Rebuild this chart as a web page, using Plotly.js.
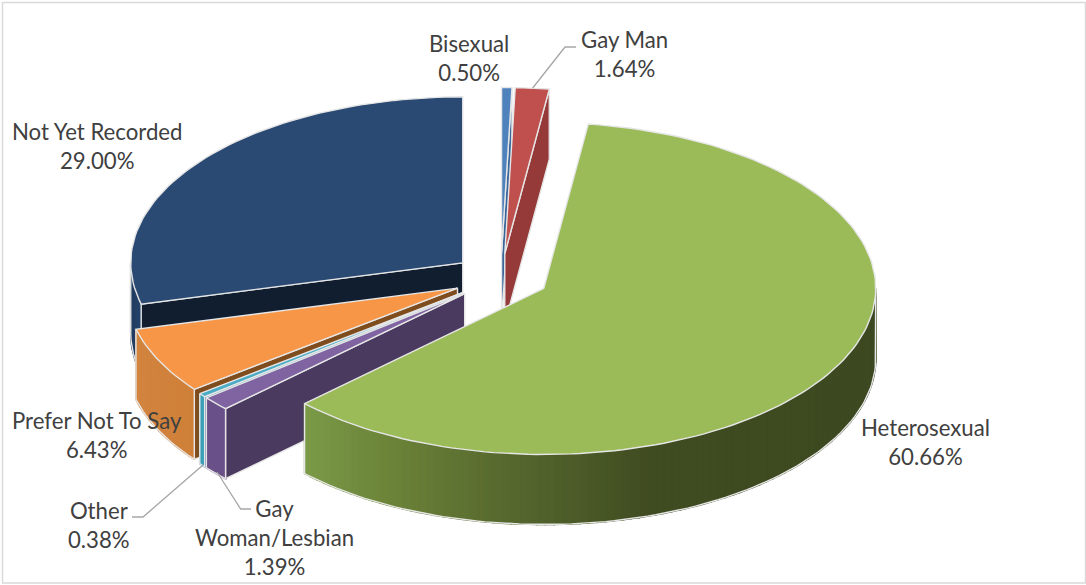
<!DOCTYPE html>
<html>
<head>
<meta charset="utf-8">
<script src="https://cdn.plot.ly/plotly-3.0.1.min.js"></script>
<style>html,body{margin:0;padding:0;background:#fff}</style>
</head>
<body>
<div id="chart" style="width:1086px;height:585px"></div>
<script>
// Sexual orientation breakdown, percent of records, clockwise from twelve o'clock
const categories = ["Bisexual", "Gay Man", "Heterosexual", "Gay Woman/Lesbian", "Other", "Prefer Not To Say", "Not Yet Recorded"];
const values = [0.50, 1.64, 60.66, 1.39, 0.38, 6.43, 29.00];
const labelLines = [["Bisexual"], ["Gay Man"], ["Heterosexual"], ["Gay", "Woman/Lesbian"], ["Other"], ["Prefer Not To Say"], ["Not Yet Recorded"]];

// Colours per slice: top surface, cut face, outer wall (start and end of the arc)
const topColors = ["#4f81bd", "#c0504d", "#9bbb59", "#8064a2", "#4bacc6", "#f79646", "#2a4a73"];
const faceColors = ["#3a659a", "#953a38", "#3f4a20", "#4b3a60", "#3c9db8", "#7f4c1e", "#101e30"];
const wallStops = [
  [[0, "#3a659a"], [1, "#3a659a"]],
  [[0, "#953a38"], [1, "#953a38"]],
  [[0, "#3c4820"], [0.52, "#3f4b20"], [0.72, "#586a2f"], [0.87, "#6c8439"], [1, "#7b9b48"]],
  [[0, "#6a5088"], [1, "#6a5088"]],
  [[0, "#3aa0b8"], [1, "#3aa0b8"]],
  [[0, "#cf7f38"], [1, "#d28540"]],
  [[0, "#24426a"], [1, "#1f3a5c"]]
];

// Projection of the tilted pie onto the plot area
const originX = 500.8, originY = 277.6, radiusX = 332, radiusY = 166, thickness = 70, explode = 0.145;
const edgeColor = "#e6e6e6", edgeWidth = 1.4;

const rad = d => d * Math.PI / 180;
const hex = c => [1, 3, 5].map(i => parseInt(c.substr(i, 2), 16));
function mix(stops, t) {
  for (let i = 1; i < stops.length; i++) {
    if (t <= stops[i][0]) {
      const f = (t - stops[i - 1][0]) / (stops[i][0] - stops[i - 1][0]);
      const a = hex(stops[i - 1][1]), b = hex(stops[i][1]);
      return "rgb(" + a.map((v, k) => Math.round(v + (b[k] - v) * f)).join(",") + ")";
    }
  }
  return stops[stops.length - 1][1];
}

const traces = [];
function poly(xs, ys, fill, line, width) {
  traces.push({
    type: "scatter", mode: "lines", x: xs, y: ys, fill: "toself", fillcolor: fill,
    line: {color: line, width: width}, hoverinfo: "skip", showlegend: false
  });
}

const total = values.reduce((a, b) => a + b, 0);
let acc = 0;
const slices = values.map((v, i) => {
  const a0 = acc / total * 360;
  acc += v;
  const a1 = acc / total * 360;
  const mid = rad((a0 + a1) / 2);
  return {
    i, a0, a1,
    cx: originX + explode * radiusX * Math.sin(mid),
    cy: originY - explode * radiusY * Math.cos(mid)
  };
});
// Back-to-front painting order follows the slices' depth on screen
const paintOrder = [0, 1, 6, 5, 4, 3, 2];

paintOrder.forEach(k => {
  const s = slices[k];
  const px = a => s.cx + radiusX * Math.sin(rad(a));
  const py = a => s.cy - radiusY * Math.cos(rad(a));
  const face = a => poly(
    [s.cx, px(a), px(a), s.cx, s.cx],
    [s.cy, py(a), py(a) + thickness, s.cy + thickness, s.cy],
    faceColors[k], edgeColor, edgeWidth
  );
  // Cut faces, only those turned towards the viewer
  if (Math.sin(rad(s.a0)) < 0) face(s.a0);
  if (Math.sin(rad(s.a1)) > 0) face(s.a1);

  // Outer wall, as narrow overlapping strips so the shading can change along the arc
  const w0 = Math.max(s.a0, 90), w1 = Math.min(s.a1, 270);
  if (w1 > w0) {
    const n = Math.max(2, Math.ceil((w1 - w0) / 1.5));
    for (let j = 0; j < n; j++) {
      const p = w0 + (w1 - w0) * j / n, q = w0 + (w1 - w0) * (j + 1) / n;
      const col = mix(wallStops[k], (j + 0.5) / n);
      poly([px(p), px(q), px(q), px(p), px(p)],
           [py(p), py(q), py(q) + thickness, py(p) + thickness, py(p)], col, col, 1.6);
    }
    const ax = [], ay = [];
    for (let j = 0; j <= n; j++) { const a = w0 + (w1 - w0) * j / n; ax.push(px(a)); ay.push(py(a) + thickness); }
    ax.unshift(px(w0)); ay.unshift(py(w0));
    ax.push(px(w1)); ay.push(py(w1));
    traces.push({type: "scatter", mode: "lines", x: ax, y: ay, line: {color: edgeColor, width: edgeWidth}, hoverinfo: "skip", showlegend: false});
  }

  // Top surface
  const tx = [s.cx], ty = [s.cy];
  const m = Math.max(3, Math.ceil((s.a1 - s.a0) / 1.5));
  for (let j = 0; j <= m; j++) { const a = s.a0 + (s.a1 - s.a0) * j / m; tx.push(px(a)); ty.push(py(a)); }
  tx.push(s.cx); ty.push(s.cy);
  poly(tx, ty, topColors[k], edgeColor, edgeWidth);
});

// Label centres and leader lines sit in plot-area pixels
const labelX = [469, 624, 925, 274, 99, 97, 97];
const labelY = [58, 54, 442, 537, 525, 435, 146];
const annotations = categories.map((c, i) => ({
  xref: "x", yref: "y", x: labelX[i], y: labelY[i], showarrow: false, align: "center",
  xanchor: "center", yanchor: "middle",
  text: labelLines[i].concat(values[i].toFixed(2) + "%").join("<br>"),
  font: {family: "Lato, 'Noto Sans', sans-serif", size: 22.2, color: "#404040"}
}));

const leaderPaths = ["M532.7 88 L565 47 L576 47", "M203 465 L143 517 L132 517", "M217 472 L240.7 509 L251 509"];
const shapes = leaderPaths.map(p => ({type: "path", path: p, xref: "x", yref: "y", line: {color: "#a6a6a6", width: 1.3}}));
shapes.push({type: "rect", xref: "x", yref: "y", x0: 2.5, x1: 1085.5, y0: 2.5, y1: 583, line: {color: "#d9d9d9", width: 1.5}});

Plotly.newPlot("chart", traces, {
  width: 1086, height: 585,
  margin: {l: 0, r: 0, t: 0, b: 0},
  paper_bgcolor: "#fff", plot_bgcolor: "#fff",
  showlegend: false,
  hovermode: false,
  xaxis: {visible: false, range: [0, 1086], fixedrange: true},
  yaxis: {visible: false, range: [585, 0], fixedrange: true},
  annotations, shapes
}, {displayModeBar: false, staticPlot: true});
</script>
</body>
</html>
